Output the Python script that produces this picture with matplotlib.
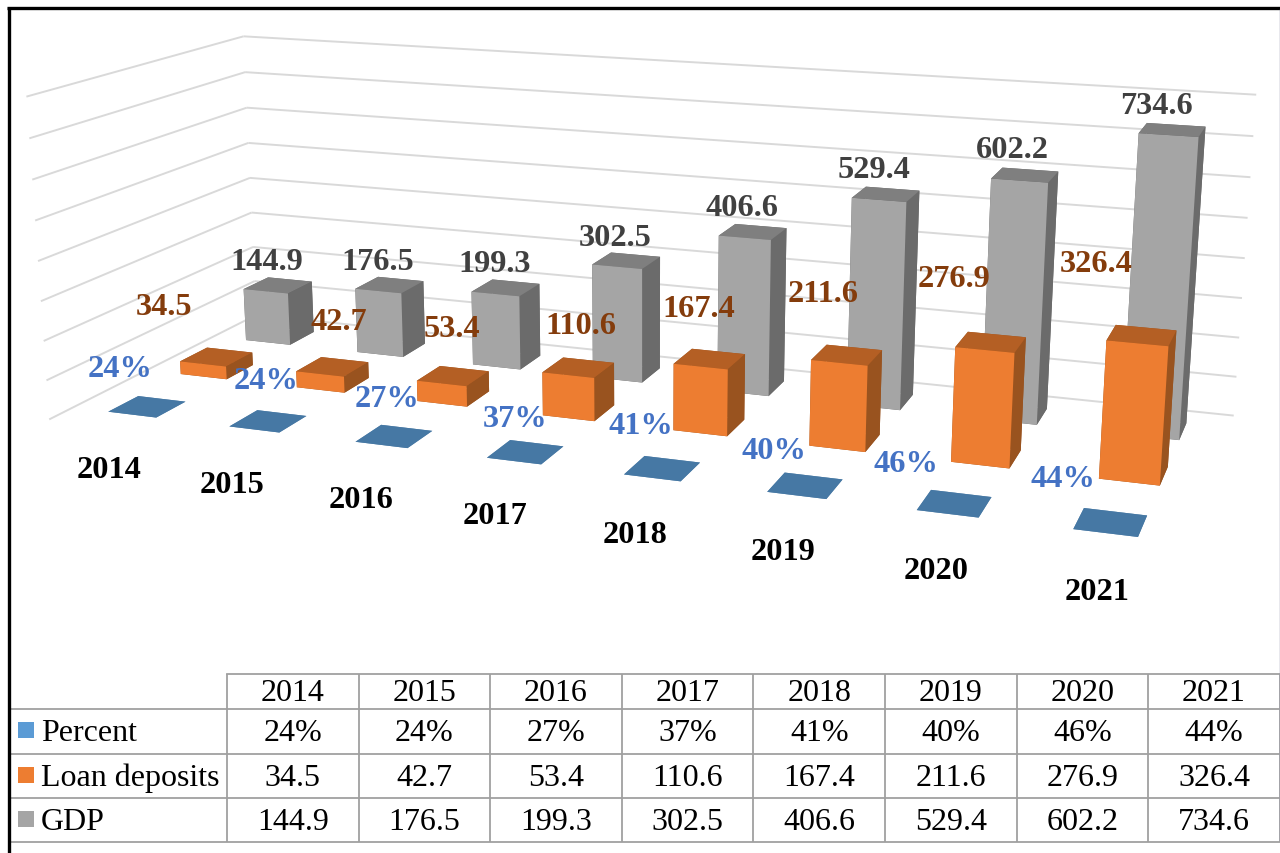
import numpy as np
import matplotlib
matplotlib.use("Agg")
import matplotlib.pyplot as plt
from mpl_toolkits.mplot3d.art3d import Line3DCollection

years = [2014, 2015, 2016, 2017, 2018, 2019, 2020, 2021]
series_names = ["Percent", "Loan deposits", "GDP"]
percent = [0.24, 0.24, 0.27, 0.37, 0.41, 0.40, 0.46, 0.44]
loan = [34.5, 42.7, 53.4, 110.6, 167.4, 211.6, 276.9, 326.4]
gdp = [144.9, 176.5, 199.3, 302.5, 406.6, 529.4, 602.2, 734.6]
gridlevels = [0, 100, 200, 300, 400, 500, 600, 700, 800]

# label anchor positions (figure pixels, y down)
gdp_lab_x = [267, 378, 495, 615, 742, 874, 1012, 1157]
gdp_lab_y = [260, 260, 262, 236, 206, 168, 148, 104]
loan_lab_x = [164, 339, 452, 581, 699, 823, 954, 1096]
loan_lab_y = [305, 320, 327, 324, 307, 292, 277, 262]
pct_lab_x = [120, 266, 387, 515, 641, 774, 906, 1063]
pct_lab_y = [367, 379, 397, 417, 424, 449, 462, 477]
year_lab_x = [109, 232, 361, 495, 635, 783, 936, 1097]
year_lab_y = [468, 483, 498, 514, 533, 550, 569, 590]

# camera fitted to the chart's perspective: (category, series, value) -> pixels
P = np.array([[1.17802736e+02, 8.32065648e+01, -2.97672418e-02, 4.92325337e+01],
              [6.32178077e+00, -1.72833772e+01, -4.07989191e-01, 4.20404226e+02],
              [-2.00466403e-02, 5.54976926e-02, -4.62221728e-05, 1.00000000e+00]])
M = np.vstack([P[0], P[1], P[2] - np.array([0, 0, 0, 1.0]), P[2]])

W, H = 1280, 854
fig = plt.figure(figsize=(W / 100, H / 100), dpi=100)
ax = fig.add_axes([0, 0, 1, 1], projection='3d', computed_zorder=False)
ax.apply_aspect = lambda position=None: None
ax.get_proj = lambda: M
ax.set_axis_off()
ax.viewLim.intervalx = (0, W)
ax.viewLim.intervaly = (H, 0)

segs = []
for g in gridlevels:
    segs.append([(0, 0, g), (0, 3, g)])
    segs.append([(0, 3, g), (8, 3, g)])
ax.add_collection3d(Line3DCollection(segs, colors='#D9D9D9', linewidths=1.4, zorder=1))

bar_w = 0.4
def bars(vals, j, faces, z):
    n = len(vals)
    ax.bar3d(np.arange(n) + 0.3, np.full(n, j + 0.3), np.zeros(n), bar_w, bar_w, vals,
             color=list(faces) * n, shade=False, linewidth=0, zorder=z)

# faces: bottom, top, front, back, left, right
bars(gdp, 2, ['#6b6b6b', '#7f7f7f', '#a5a5a5', '#6b6b6b', '#6b6b6b', '#6b6b6b'], 2)
bars(loan, 1, ['#99531f', '#b45f24', '#ed7d31', '#99531f', '#99531f', '#99531f'], 3)
bars(percent, 0, ['#4678a4'] * 6, 4)

# overlay in pixel coordinates for labels, table and frame
ov = fig.add_axes([0, 0, 1, 1], facecolor='none')
ov.set_xlim(0, W)
ov.set_ylim(H, 0)
ov.axis('off')
serif = 'Liberation Serif'

def labels(xs, ys, texts, color):
    for x, y, t in zip(xs, ys, texts):
        ov.text(x, y + 3, t, color=color, family=serif, weight='bold', fontsize=23.3,
                ha='center', va='center')

labels(gdp_lab_x, gdp_lab_y, [f'{v:.1f}' for v in gdp], '#404040')
labels(loan_lab_x, loan_lab_y, [f'{v:.1f}' for v in loan], '#843C0C')
labels(pct_lab_x, pct_lab_y, [f'{v:.0%}' for v in percent], '#4472C4')
labels(year_lab_x, year_lab_y, [str(y) for y in years], '#000000')

# data table
col_edges = [227 + 131.6 * i for i in range(9)]
row_edges = [674.5, 709.5, 754.5, 798.5, 842.5]
grid = '#A0A0A0'
for x in col_edges:
    ov.plot([x, x], [row_edges[0], row_edges[-1]], color=grid, lw=1.3, solid_capstyle='butt')
ov.plot([col_edges[0], W], [row_edges[0]] * 2, color=grid, lw=1.3)
for y in row_edges[1:]:
    ov.plot([9, W], [y, y], color=grid, lw=1.3)

table_rows = [[str(y) for y in years],
              [f'{v:.0%}' for v in percent],
              [f'{v:.1f}' for v in loan],
              [f'{v:.1f}' for v in gdp]]
for r, row in enumerate(table_rows):
    yc = (row_edges[r] + row_edges[r + 1]) / 2 + 2
    for c, t in enumerate(row):
        ov.text((col_edges[c] + col_edges[c + 1]) / 2, yc, t, family=serif, fontsize=23,
                color='#000000', ha='center', va='center')

swatches = ['#5B9BD5', '#ED7D31', '#A5A5A5']
for r, (name, col) in enumerate(zip(series_names, swatches)):
    yc = (row_edges[r + 1] + row_edges[r + 2]) / 2
    ov.add_patch(plt.Rectangle((18, yc - 9), 16, 16, facecolor=col, edgecolor='none'))
    ov.text(41, yc + 2, name, family=serif, fontsize=23, color='#000000', ha='left', va='center')

# outer frame
ov.plot([8.5, 8.5], [8, H], color='black', lw=2.4, solid_capstyle='butt')
ov.plot([7, W], [8.5, 8.5], color='black', lw=2.4, solid_capstyle='butt')
ov.plot([1279.5, 1279.5], [10, 842], color='#8C8CA8', lw=1.0, solid_capstyle='butt')

fig.savefig('out.png', dpi=100)
